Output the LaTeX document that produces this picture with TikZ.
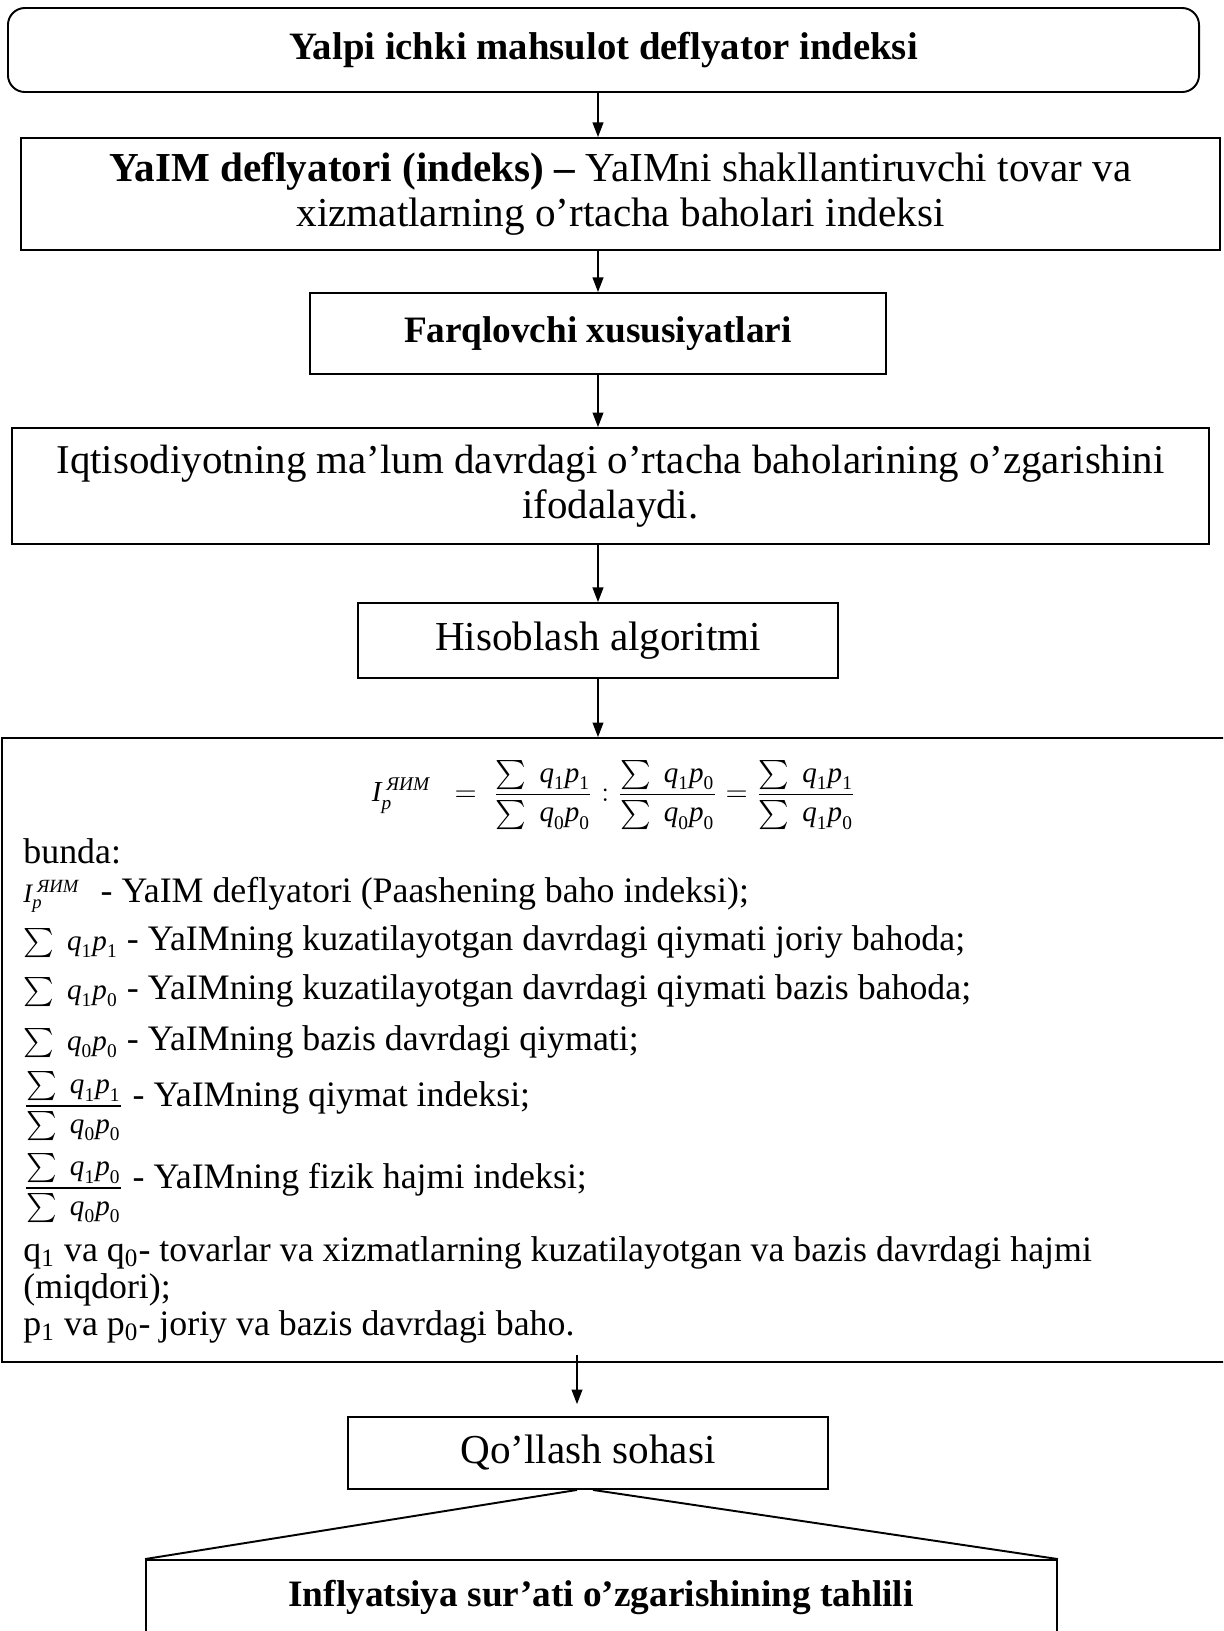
\documentclass[tikz,border=0pt]{standalone}
\usepackage{amsmath}
\usepackage{fontspec}
\setmainfont{Liberation Serif}
\usetikzlibrary{arrows.meta,calc}
\newcommand\Qv[1]{\text{\itshape q}_{\text{#1}}}
\newcommand\Pv[1]{\text{\itshape p}_{\text{#1}}}
\newcommand\Ig{\text{\itshape I}_{\text{\itshape p}}^{\hspace{2pt}\text{\itshape ЯИМ}}}
\newcommand\Fr[2]{\dfrac{\sum\; #1}{\sum\; #2}}
\newcommand\sm{\fontsize{12}{14}\selectfont}
\begin{document}
\begin{tikzpicture}[x=0.413pt,y=-0.413pt,
  box/.style={draw, line width=0.8pt, inner sep=0pt, align=center},
  ttl/.style={font=\fontsize{17}{18.5}\selectfont},
  bttl/.style={font=\bfseries\fontsize{15.4}{17.5}\selectfont},
  arr/.style={line width=0.5pt, -{Triangle[length=6pt,width=4.5pt]}},
  body/.style={anchor=base west, inner sep=0pt, font=\fontsize{14.8}{16.5}\selectfont},
  thick line/.style={line width=0.8pt}]
\useasboundingbox (0,0) rectangle (1223,1631);
\clip (0,0) rectangle (1223,1631);

\node[box, rounded corners=7pt, minimum width=491.9pt, minimum height=34.7pt, font=\bfseries\fontsize{16}{18}\selectfont] (b1) at (603.5,50) {\raisebox{2pt}{Yalpi ichki mahsulot deflyator indeksi}};
\node[box, minimum width=495.2pt, minimum height=46.3pt, ttl] (b2) at (620.5,194) {\textbf{YaIM deflyatori (indeks)} \textbf{–} YaIMni shakllantiruvchi tovar va\\ xizmatlarning o’rtacha baholari indeksi};
\node[box, minimum width=237.9pt, minimum height=33.5pt, bttl] (b3) at (598,333.5) {Farqlovchi xususiyatlari};
\node[box, minimum width=494.4pt, minimum height=47.9pt, font=\fontsize{16.9}{18.6}\selectfont] (b4) at (610.5,486) {Iqtisodiyotning ma’lum davrdagi o’rtacha baholarining o’zgarishini\\ ifodalaydi.};
\node[box, minimum width=198.2pt, minimum height=31pt, ttl] (b5) at (598,640.5) {Hisoblash algoritmi};
\node[box, minimum width=511.3pt, minimum height=257.7pt] (b6) at (621,1050) {};
\node[box, minimum width=198.2pt, minimum height=29.7pt, ttl] (b7) at (588,1453) {Qo’llash sohasi};
\node[box, minimum width=376.2pt, minimum height=57.8pt] (b8) at (601.5,1630) {};
\node[bttl, inner sep=0pt] (t8) at (601,1597) {Inflyatsiya sur’ati o’zgarishining tahlili};

% formula
\node[inner sep=0pt] (f0) at (614,795) {\sm $\Ig \;\;=\; \Fr{\Qv1\Pv1}{\Qv0\Pv0} : \Fr{\Qv1\Pv0}{\Qv0\Pv0} = \Fr{\Qv1\Pv1}{\Qv1\Pv0}$};

\node[body] (l1) at (23,863) {bunda:};
\node[body] (l2) at (23,902) {{\fontsize{11}{13}\selectfont$\Ig$}\hspace{5pt} - YaIM deflyatori (Paashening baho indeksi);};
\node[body] (l3) at (23,950) {{\sm$\sum\;\Qv1\Pv1$} - YaIMning kuzatilayotgan davrdagi qiymati joriy bahoda;};
\node[body] (l4) at (23,999) {{\sm$\sum\;\Qv1\Pv0$} - YaIMning kuzatilayotgan davrdagi qiymati bazis bahoda;};
\node[body] (l5) at (23,1050) {{\sm$\sum\;\Qv0\Pv0$} - YaIMning bazis davrdagi qiymati;};
\node[body] (l6) at (23,1106) {\raisebox{-3pt}{\sm$\Fr{\Qv1\Pv1}{\Qv0\Pv0}$} - YaIMning qiymat indeksi;};
\node[body] (l7) at (23,1188) {\raisebox{-3pt}{\sm$\Fr{\Qv1\Pv0}{\Qv0\Pv0}$} - YaIMning fizik hajmi indeksi;};
\node[body] (l8) at (23,1261) {q\textsubscript{1} va q\textsubscript{0}- tovarlar va xizmatlarning kuzatilayotgan va bazis davrdagi hajmi};
\node[body] (l9) at (23,1298) {(miqdori);};
\node[body] (l10) at (23,1335) {p\textsubscript{1} va p\textsubscript{0}- joriy va bazis davrdagi baho.};

% connectors
\coordinate (ax) at (598,0);
\coordinate (bx) at (577,0);
\draw[arr] (b1.south -| ax) -- (b2.north -| ax);
\draw[arr] (b2.south -| ax) -- (b3.north -| ax);
\draw[arr] (b3.south -| ax) -- (b4.north -| ax);
\draw[arr] (b4.south -| ax) -- (b5.north -| ax);
\draw[arr] (b5.south -| ax) -- (b6.north -| ax);
\draw[arr] ($(b6.south -| bx)+(0,-8)$) -- ($(b7.north -| bx)+(0,-12)$);
\draw[thick line] ($(b7.south)+(-11,0)$) -- (b8.north west);
\draw[thick line] ($(b7.south)+(5,0)$) -- (b8.north east);
\end{tikzpicture}
\end{document}
